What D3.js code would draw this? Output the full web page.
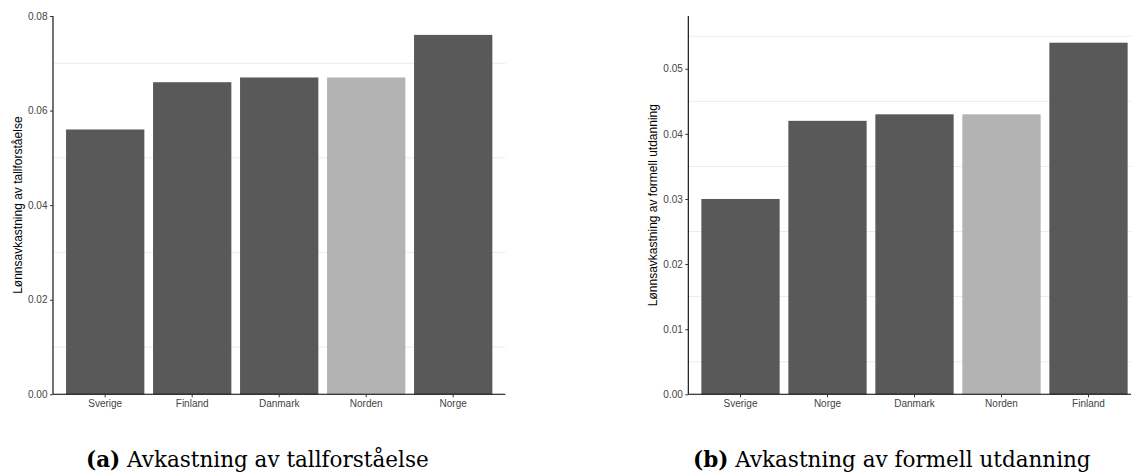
<!DOCTYPE html>
<html>
<head>
<meta charset="utf-8">
<script src="https://cdn.jsdelivr.net/npm/d3@7"></script>
<style>
  body { margin: 0; background: #fff; }
  svg { display: block; }
</style>
</head>
<body>
<svg id="chart"></svg>
<script>
// data
const catsA = ["Sverige", "Finland", "Danmark", "Norden", "Norge"]
const valsA = [0.056, 0.066, 0.067, 0.067, 0.076]
const ticksA = [0, 0.02, 0.04, 0.06, 0.08]
const gridA = [0.01, 0.03, 0.05, 0.07]

const catsB = ["Sverige", "Norge", "Danmark", "Norden", "Finland"]
const valsB = [0.030, 0.042, 0.043, 0.043, 0.054]
const ticksB = [0, 0.01, 0.02, 0.03, 0.04, 0.05]
const gridB = [0.005, 0.015, 0.025, 0.035, 0.045, 0.055]

const highlight = "Norden"

const width = 1131
const height = 474

const svg = d3.select("#chart")
  .attr("width", width)
  .attr("height", height)

const panels = [
  { x0: 53, cats: catsA, vals: valsA, ticks: ticksA, grid: gridA, ymax: 0.08,
    ytitle: "Lønnsavkastning av tallforståelse", tag: "(a)", caption: " Avkastning av tallforståelse", capX: 86 },
  { x0: 688.3, cats: catsB, vals: valsB, ticks: ticksB, grid: gridB, ymax: 0.0581,
    ytitle: "Lønnsavkastning av formell utdanning", tag: "(b)", caption: " Avkastning av formell utdanning", capX: 693 }
]

const plotTop = 16, plotBottom = 394.3, panelW = 452.4
const sans = "Liberation Sans, Arial, Helvetica, sans-serif"

panels.forEach(p => {
  const g = svg.append("g")

  const x = d3.scaleBand()
    .domain(p.cats)
    .range([p.x0, p.x0 + panelW])
    .paddingInner(0.1)
    .paddingOuter(0.15)

  const y = d3.scaleLinear()
    .domain([0, p.ymax])
    .range([plotBottom, plotTop])

  // only the minor grid lines are drawn
  g.selectAll(".grid")
    .data(p.grid)
    .join("line")
      .attr("x1", p.x0)
      .attr("x2", p.x0 + panelW)
      .attr("y1", d => y(d))
      .attr("y2", d => y(d))
      .attr("stroke", "#ebebeb")
      .attr("stroke-width", 1)

  g.selectAll(".bar")
    .data(p.cats)
    .join("rect")
      .attr("x", d => x(d))
      .attr("width", x.bandwidth())
      .attr("y", (d, i) => y(p.vals[i]))
      .attr("height", (d, i) => y(0) - y(p.vals[i]))
      .attr("fill", d => d === highlight ? "#b3b3b3" : "#595959")

  // y axis
  const yAxis = g.append("g")
    .attr("transform", `translate(${p.x0},0)`)
    .call(d3.axisLeft(y).tickValues(p.ticks).tickFormat(d3.format(".2f")).tickSize(3).tickPadding(2.5))
  yAxis.select(".domain").attr("stroke", "#000").attr("stroke-width", 1.1)
    .attr("d", `M0,${plotTop}V${plotBottom}`)
  yAxis.selectAll(".tick line").attr("stroke", "#333")
  yAxis.selectAll(".tick text")
    .attr("fill", "#444")
    .style("font-family", sans)
    .style("font-size", "10px")

  // x axis
  const xAxis = g.append("g")
    .attr("transform", `translate(0,${plotBottom})`)
    .call(d3.axisBottom(x).tickSize(3).tickPadding(2.5))
  xAxis.select(".domain").attr("stroke", "#000").attr("stroke-width", 1.1)
    .attr("d", `M${p.x0},0H${p.x0 + panelW}`)
  xAxis.selectAll(".tick line").attr("stroke", "#333")
  xAxis.selectAll(".tick text")
    .attr("fill", "#444")
    .style("font-family", sans)
    .style("font-size", "10px")

  // y title
  g.append("text")
    .attr("transform", `translate(${p.x0 - 31.5},${(plotTop + plotBottom) / 2}) rotate(-90)`)
    .attr("text-anchor", "middle")
    .style("font-family", sans)
    .style("font-size", "12px")
    .attr("fill", "#000")
    .text(p.ytitle)

  // caption
  const cap = g.append("text")
    .attr("x", p.capX)
    .attr("y", 467)
    .style("font-family", "'DejaVu Serif', serif")
    .style("font-size", "21.5px")
    .attr("fill", "#000")
  cap.append("tspan").attr("font-weight", "bold").text(p.tag)
  cap.append("tspan").text(p.caption)
})
</script>
</body>
</html>
